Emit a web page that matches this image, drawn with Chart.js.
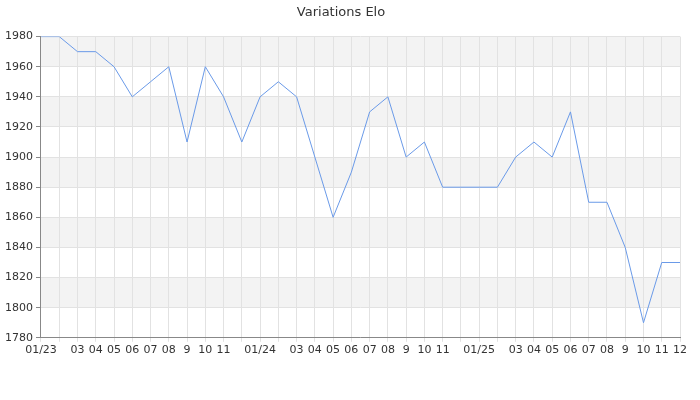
<!DOCTYPE html>
<html>
<head>
<meta charset="utf-8">
<script src="https://cdn.jsdelivr.net/npm/chart.js@4/dist/chart.umd.min.js"></script>
<style>
  html, body { margin: 0; padding: 0; background: #fff; }
  #wrap { width: 700px; height: 400px; }
</style>
</head>
<body>
<div id="wrap"><canvas id="c" width="700" height="400"></canvas></div>
<script>
// months, one point per month from 01/23 to 12/25
const xLabels = [
  '01/23', '02', '03', '04', '05', '06', '07', '08', '9', '10', '11', '12',
  '01/24', '02', '03', '04', '05', '06', '07', '08', '9', '10', '11', '12',
  '01/25', '02', '03', '04', '05', '06', '07', '08', '9', '10', '11', '12'
];
const elo = [
  1980, 1980, 1970, 1970, 1960, 1940, 1950, 1960, 1910, 1960, 1940, 1910,
  1940, 1950, 1940, 1900, 1860, 1890, 1930, 1940, 1900, 1910, 1880, 1880,
  1880, 1880, 1900, 1910, 1900, 1930, 1870, 1870, 1840, 1790, 1830, 1830
];
const yMin = 1780;
const yMax = 1980;

// grey bands every other 20 pts, starting from the top
const bandsPlugin = {
  id: 'bands',
  beforeDraw(chart) {
    const { ctx, chartArea } = chart;
    const y = chart.scales.y;
    ctx.save();
    ctx.fillStyle = '#f3f3f3';
    for (let v = yMax; v > yMin; v -= 40) {
      const top = y.getPixelForValue(v);
      const bot = y.getPixelForValue(v - 20);
      ctx.fillRect(chartArea.left, top, chartArea.right - chartArea.left, bot - top);
    }
    ctx.restore();
  }
};

new Chart(document.getElementById('c'), {
  type: 'line',
  data: {
    labels: xLabels,
    datasets: [{
      data: elo,
      borderColor: '#6a9ae8',
      borderWidth: 1,
      pointRadius: 0,
      tension: 0,
      fill: false
    }]
  },
  options: {
    responsive: false,
    animation: false,
    layout: { padding: { left: 2, right: 20, top: 0, bottom: 41 } },
    plugins: {
      legend: { display: false },
      tooltip: { enabled: false },
      title: {
        display: true,
        text: 'Variations Elo',
        color: '#333',
        font: { family: 'DejaVu Sans', size: 13, weight: 'normal' },
        padding: { top: 5, bottom: 16 }
      }
    },
    scales: {
      x: {
        offset: false,
        grid: { color: '#e2e2e2', tickLength: 4, tickColor: '#e2e2e2' },
        border: { color: '#888' },
        ticks: {
          autoSkip: false,
          maxRotation: 0,
          color: '#333',
          font: { family: 'DejaVu Sans', size: 11 },
          padding: 2,
          callback(v, i) {
            // the month next to a year label is hidden (no room)
            const prev = xLabels[i - 1] || '';
            const next = xLabels[i + 1] || '';
            if (prev.includes('/') || next.includes('/')) return '';
            return xLabels[i];
          }
        }
      },
      y: {
        min: yMin,
        max: yMax,
        grid: {
          color: (c) => (c.tick.value % 20 === 0 ? '#e2e2e2' : 'rgba(0,0,0,0)'),
          tickColor: '#888',
          tickLength: 5
        },
        border: { color: '#888' },
        ticks: {
          stepSize: 10,
          color: '#333',
          font: { family: 'DejaVu Sans', size: 11 },
          padding: 3,
          callback: (v) => (v % 20 === 0 ? v : '')
        }
      }
    }
  },
  plugins: [bandsPlugin]
});
</script>
</body>
</html>
